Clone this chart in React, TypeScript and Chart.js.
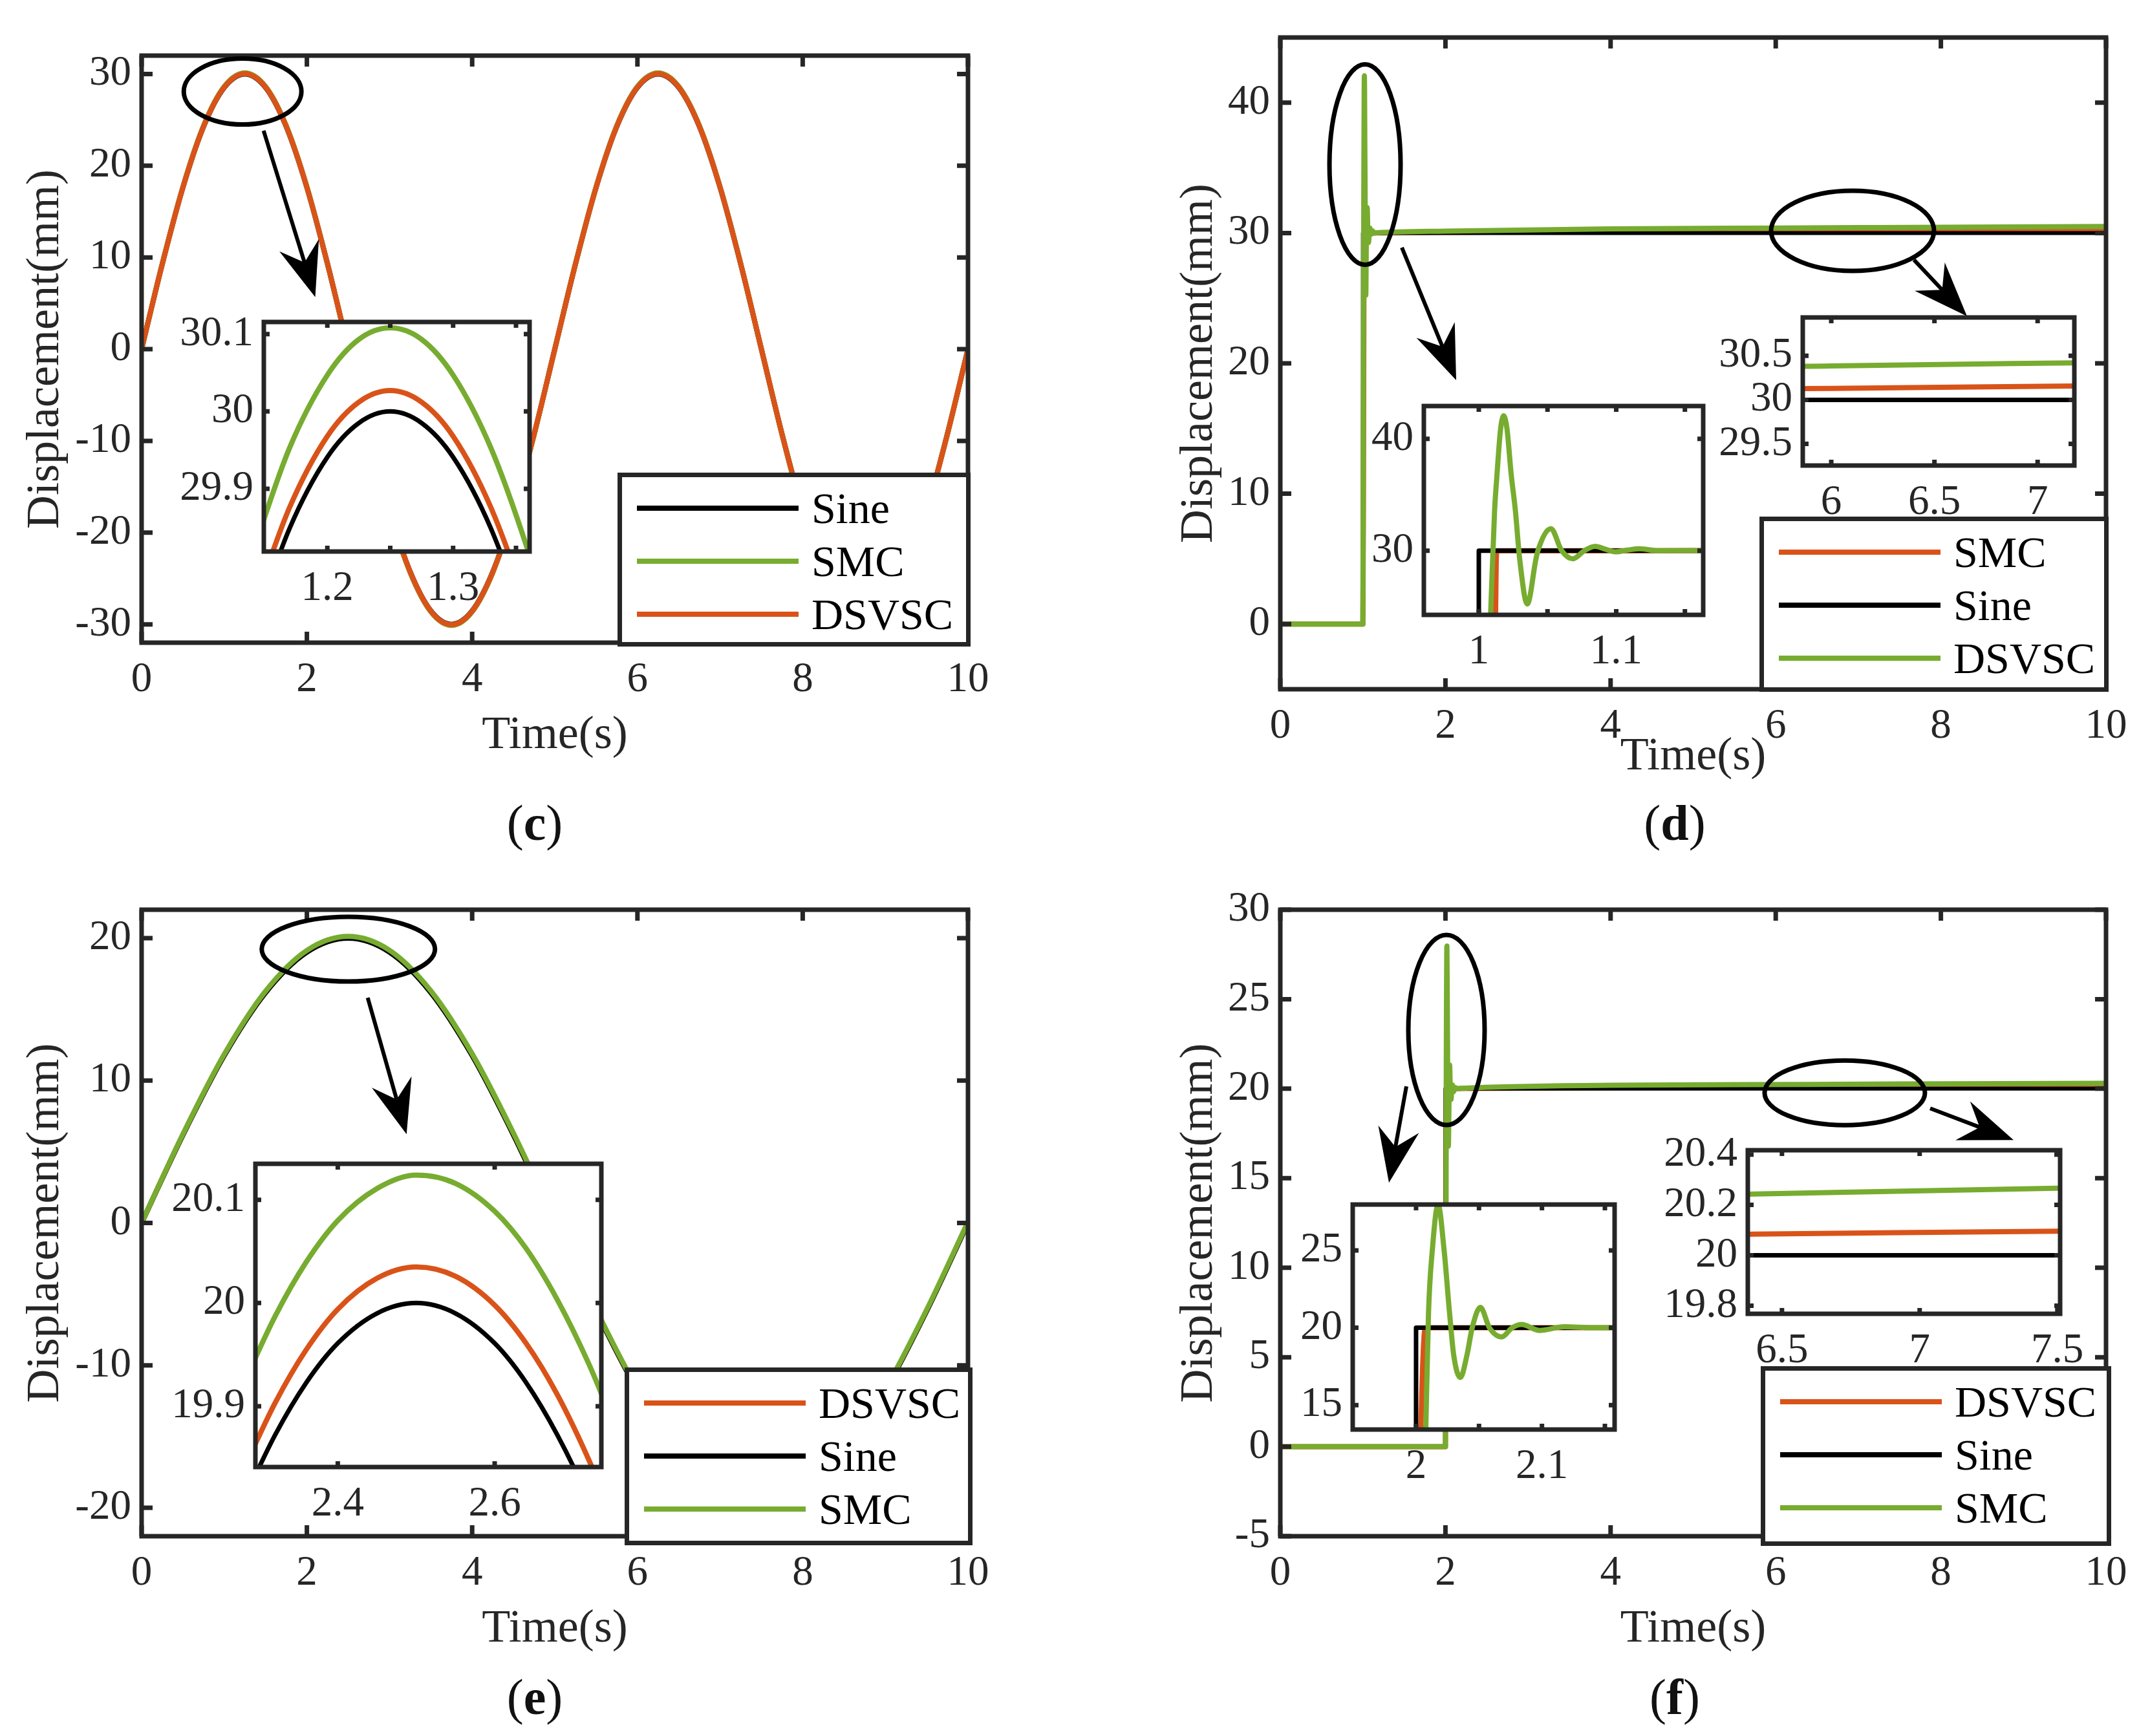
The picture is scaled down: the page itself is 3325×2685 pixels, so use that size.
import React, { useEffect, useRef } from 'react';
import { Chart, registerables } from 'chart.js';

Chart.register(...registerables);

const SERIF = '"Liberation Serif", "Times New Roman", Times, serif';
const AXIS_COLOR = '#262626';
const C_BLACK = '#000000';
const C_ORANGE = '#D95319';
const C_GREEN = '#77AC30';

/* ===================== DATA ===================== */
// ---- panel (c): sine tracking, amplitude 30, period 5 s ----
const cTime = [0, 0.25, 0.5, 0.75, 1, 1.25, 1.5, 1.75, 2, 2.25, 2.5, 2.75, 3, 3.25, 3.5, 3.75, 4, 4.25, 4.5, 4.75, 5, 5.25, 5.5, 5.75, 6, 6.25, 6.5, 6.75, 7, 7.25, 7.5, 7.75, 8, 8.25, 8.5, 8.75, 9, 9.25, 9.5, 9.75, 10];
const cSine = [0, 9.27, 17.63, 24.27, 28.53, 30, 28.53, 24.27, 17.63, 9.27, 0, -9.27, -17.63, -24.27, -28.53, -30, -28.53, -24.27, -17.63, -9.27, 0, 9.27, 17.63, 24.27, 28.53, 30, 28.53, 24.27, 17.63, 9.27, 0, -9.27, -17.63, -24.27, -28.53, -30, -28.53, -24.27, -17.63, -9.27, 0];
const cSMC = [0, 9.3, 17.69, 24.36, 28.63, 30.11, 28.63, 24.36, 17.69, 9.3, 0, -9.3, -17.69, -24.36, -28.63, -30.11, -28.63, -24.36, -17.69, -9.3, 0, 9.3, 17.69, 24.36, 28.63, 30.11, 28.63, 24.36, 17.69, 9.3, 0, -9.3, -17.69, -24.36, -28.63, -30.11, -28.63, -24.36, -17.69, -9.3, 0];
const cDSVSC = [0, 9.28, 17.65, 24.29, 28.56, 30.03, 28.56, 24.29, 17.65, 9.28, 0, -9.28, -17.65, -24.29, -28.56, -30.03, -28.56, -24.29, -17.65, -9.28, 0, 9.28, 17.65, 24.29, 28.56, 30.03, 28.56, 24.29, 17.65, 9.28, 0, -9.28, -17.65, -24.29, -28.56, -30.03, -28.56, -24.29, -17.65, -9.28, 0];
const cZoomTime = [1.14, 1.17, 1.2, 1.225, 1.25, 1.275, 1.3, 1.33, 1.36, 1.37];
const cZoomSine = [29.714, 29.849, 29.941, 29.985, 30.0, 29.985, 29.941, 29.849, 29.714, 29.66];
const cZoomSMC = [29.815, 29.953, 30.047, 30.093, 30.108, 30.093, 30.047, 29.953, 29.818, 29.764];
const cZoomDSVSC = [29.742, 29.876, 29.968, 30.012, 30.027, 30.012, 29.968, 29.876, 29.742, 29.688];

// ---- panel (d): step to 30 at t = 1 s ----
const dSineTime = [0, 1, 1, 10];
const dSineVal = [0, 0, 30, 30];
const dSMCTime = [0, 1, 1.006, 1.0115, 1.0122, 1.0128, 1.0135, 1.02, 1.2, 2, 4, 6, 7.2, 10];
const dSMCVal = [0, 0, 8, 22, 24.3, 29.5, 30, 30, 30.01, 30.06, 30.1, 30.13, 30.157, 30.2];
const dDSVSCTime = [0, 1, 1.004, 1.0086, 1.0115, 1.0133, 1.0157, 1.018, 1.0205, 1.0235, 1.0266, 1.0298, 1.0353, 1.0415, 1.043, 1.0525, 1.0603, 1.0685, 1.0768, 1.0847, 1.092, 1.0995, 1.108, 1.117, 1.13, 1.17, 2, 4, 6, 7.2, 10];
const dDSVSCVal = [0, 0, 10, 24.36, 33.6, 36.9, 40.7, 42.06, 40.9, 36.9, 33.6, 29.2, 25.23, 29.2, 30, 31.96, 30, 29.27, 30, 30.38, 30.13, 29.9, 30.05, 30.17, 30, 30.02, 30.15, 30.32, 30.385, 30.42, 30.5];

// ---- panel (e): sine tracking, amplitude 20, period 10 s ----
const eTime = [0, 0.5, 1, 1.5, 2, 2.5, 3, 3.5, 4, 4.5, 5, 5.5, 6, 6.5, 7, 7.5, 8, 8.5, 9, 9.5, 10];
const eSine = [0, 6.18, 11.76, 16.18, 19.02, 20, 19.02, 16.18, 11.76, 6.18, 0, -6.18, -11.76, -16.18, -19.02, -20, -19.02, -16.18, -11.76, -6.18, 0];
const eDSVSC = [0, 6.2, 11.79, 16.21, 19.06, 20.035, 19.06, 16.22, 11.79, 6.21, 0.02, -6.16, -11.74, -16.16, -19.0, -19.98, -19.0, -16.16, -11.74, -6.16, 0.02];
const eSMC = [0, 6.23, 11.84, 16.28, 19.14, 20.124, 19.15, 16.3, 11.88, 6.3, 0.11, -6.08, -11.66, -16.08, -18.92, -19.9, -18.93, -16.09, -11.68, -6.1, 0.08];
const eZoomTime = [2.28, 2.32, 2.36, 2.4, 2.45, 2.5, 2.55, 2.6, 2.64, 2.68, 2.72, 2.76];
const eZoomSine = [19.809, 19.872, 19.923, 19.961, 19.99, 20.0, 19.99, 19.961, 19.923, 19.872, 19.809, 19.734];
const eZoomDSVSC = [19.839, 19.903, 19.955, 19.994, 20.024, 20.035, 20.026, 19.998, 19.961, 19.911, 19.848, 19.774];
const eZoomSMC = [19.922, 19.987, 20.04, 20.08, 20.111, 20.124, 20.116, 20.089, 20.053, 20.003, 19.941, 19.867];

// ---- panel (f): step to 20 at t = 2 s ----
const fSineTime = [0, 2, 2, 10];
const fSineVal = [0, 0, 20, 20];
const fDSVSCTime = [0, 2, 2.002, 2.0038, 2.0069, 2.009, 2.02, 2.2, 4, 6.4, 7.5, 10];
const fDSVSCVal = [0, 0, 5, 13.4, 19.86, 20, 20, 20.01, 20.06, 20.084, 20.096, 20.12];
const fSMCTime = [0, 2, 2.004, 2.0077, 2.0099, 2.0129, 2.0175, 2.0223, 2.0266, 2.03, 2.0352, 2.0403, 2.0446, 2.0511, 2.0583, 2.068, 2.0763, 2.0838, 2.098, 2.1177, 2.14, 2.2, 4, 6.4, 7.5, 10];
const fSMCVal = [0, 0, 6, 13.4, 20.97, 25, 27.97, 25, 20.97, 18.18, 16.79, 18.18, 20, 21.32, 20, 19.41, 20, 20.21, 19.83, 20.07, 20, 20.02, 20.19, 20.243, 20.266, 20.3];

// ---- ticks ----
const mainXTicks = [0, 2, 4, 6, 8, 10];
const cYTicks = [-30, -20, -10, 0, 10, 20, 30];
const dYTicks = [0, 10, 20, 30, 40];
const eYTicks = [-20, -10, 0, 10, 20];
const fYTicks = [-5, 0, 5, 10, 15, 20, 25, 30];
const cZoomXTicks = [1.2, 1.25, 1.3, 1.35];
const cZoomXLabels = ['1.2', '', '1.3', ''];
const cZoomYTicks = [29.9, 30, 30.1];
const dZoom1XTicks = [1, 1.05, 1.1, 1.15];
const dZoom1XLabels = ['1', '', '1.1', ''];
const dZoom1YTicks = [30, 40];
const dZoom2XTicks = [6, 6.5, 7];
const dZoom2YTicks = [29.5, 30, 30.5];
const eZoomXTicks = [2.4, 2.6];
const eZoomYTicks = [19.9, 20, 20.1];
const fZoom1XTicks = [2, 2.05, 2.1, 2.15];
const fZoom1XLabels = ['2', '', '2.1', ''];
const fZoom1YTicks = [15, 20, 25];
const fZoom2XTicks = [6.5, 7, 7.5];
const fZoom2YTicks = [19.8, 20, 20.2, 20.4];

// ---- annotations (data coordinates, radii in px) ----
const cNotes = [
  { type: 'ellipse', x: 1.222, y: 28.08, rx: 91, ry: 51 },
  { type: 'arrow', x1: 1.476, y1: 23.81, x2: 2.101, y2: 5.68 },
];
const dNotes = [
  { type: 'ellipse', x: 1.026, y: 35.25, rx: 55, ry: 155 },
  { type: 'ellipse', x: 6.93, y: 30.17, rx: 126, ry: 62 },
  { type: 'arrow', x1: 1.472, y1: 28.88, x2: 2.13, y2: 18.71 },
  { type: 'arrow', x1: 7.674, y1: 27.94, x2: 8.316, y2: 23.62 },
];
const eNotes = [
  { type: 'ellipse', x: 2.502, y: 19.23, rx: 134, ry: 50 },
  { type: 'arrow', x1: 2.736, y1: 15.82, x2: 3.206, y2: 6.23 },
];
const fNotes = [
  { type: 'ellipse', x: 2.0125, y: 23.28, rx: 59, ry: 147 },
  { type: 'ellipse', x: 6.836, y: 19.77, rx: 124, ry: 50 },
  { type: 'arrow', x1: 1.527, y1: 20.13, x2: 1.316, y2: 14.75 },
  { type: 'arrow', x1: 7.87, y1: 18.9, x2: 8.88, y2: 17.13 },
];

/* ===================== TYPES / HELPERS ===================== */
type Series = { label: string; t: number[]; y: number[]; color: string; width: number; straight?: boolean };
type AxesSpec = {
  box: number[];
  xRange: number[];
  yRange: number[];
  xTicks: number[];
  xLabels: string[];
  yTicks: number[];
  yLabels: string[];
  series: Series[];
  inset?: boolean;
  xTitle?: string;
  xTitlePad?: number;
  yTitle?: string;
  yTitlePad?: number;
  notes?: any[];
};

const lbl = (arr: number[]) => arr.map((v) => String(v));

function makeDeco(spec: AxesSpec) {
  const tickLen = spec.inset ? 9 : 17;
  return {
    id: 'deco',
    beforeDraw(chart: any) {
      if (!spec.inset) return;
      const { ctx, chartArea: a } = chart;
      ctx.save();
      ctx.fillStyle = '#ffffff';
      ctx.fillRect(a.left, a.top, a.right - a.left, a.bottom - a.top);
      ctx.restore();
    },
    afterDatasetsDraw(chart: any) {
      const { ctx, chartArea: a, scales } = chart;
      ctx.save();
      ctx.strokeStyle = AXIS_COLOR;
      ctx.lineWidth = 7;
      ctx.beginPath();
      for (const tk of scales.x.ticks) {
        const p = scales.x.getPixelForValue(tk.value);
        ctx.moveTo(p, a.bottom);
        ctx.lineTo(p, a.bottom - tickLen);
        ctx.moveTo(p, a.top);
        ctx.lineTo(p, a.top + tickLen);
      }
      for (const tk of scales.y.ticks) {
        const p = scales.y.getPixelForValue(tk.value);
        ctx.moveTo(a.left, p);
        ctx.lineTo(a.left + tickLen, p);
        ctx.moveTo(a.right, p);
        ctx.lineTo(a.right - tickLen, p);
      }
      ctx.stroke();
      ctx.lineWidth = 7;
      ctx.lineJoin = 'miter';
      ctx.strokeRect(a.left, a.top, a.right - a.left, a.bottom - a.top);
      ctx.restore();
    },
    afterDraw(chart: any) {
      if (!spec.notes) return;
      const { ctx, scales } = chart;
      const X = (v: number) => scales.x.getPixelForValue(v);
      const Y = (v: number) => scales.y.getPixelForValue(v);
      ctx.save();
      ctx.strokeStyle = '#000000';
      ctx.fillStyle = '#000000';
      for (const n of spec.notes) {
        if (n.type === 'ellipse') {
          ctx.lineWidth = 7;
          ctx.beginPath();
          ctx.ellipse(X(n.x), Y(n.y), n.rx, n.ry, 0, 0, Math.PI * 2);
          ctx.stroke();
        } else {
          const x1 = X(n.x1), y1 = Y(n.y1), x2 = X(n.x2), y2 = Y(n.y2);
          const dx = x2 - x1, dy = y2 - y1;
          const len = Math.hypot(dx, dy);
          const ux = dx / len, uy = dy / len;
          const nx = -uy, ny = ux;
          const L = 84, W = 32, N = 56;
          ctx.lineWidth = 6;
          ctx.beginPath();
          ctx.moveTo(x1, y1);
          ctx.lineTo(x2 - ux * N, y2 - uy * N);
          ctx.stroke();
          ctx.beginPath();
          ctx.moveTo(x2, y2);
          ctx.lineTo(x2 - ux * L + nx * W, y2 - uy * L + ny * W);
          ctx.lineTo(x2 - ux * N, y2 - uy * N);
          ctx.lineTo(x2 - ux * L - nx * W, y2 - uy * L - ny * W);
          ctx.closePath();
          ctx.fill();
        }
      }
      ctx.restore();
    },
  };
}

function buildConfig(spec: AxesSpec, padL: number, padT: number, padR: number, padB: number) {
  const n = spec.series.length;
  const datasets = spec.series.map((s, i) => ({
    label: s.label,
    data: s.t.map((t, k) => ({ x: t, y: s.y[k] })),
    borderColor: s.color,
    backgroundColor: s.color,
    borderWidth: s.width,
    pointRadius: 0,
    pointHoverRadius: 0,
    fill: false,
    tension: s.straight ? 0 : 0.4,
    cubicInterpolationMode: s.straight ? 'default' : 'monotone',
    capBezierPoints: false,
    borderJoinStyle: 'round',
    order: n - i,
  }));
  const tickFont = { family: SERIF, size: 65, lineHeight: 1 };
  const titleFont = { family: SERIF, size: 72, lineHeight: 1 };
  return {
    type: 'line',
    data: { datasets },
    plugins: [makeDeco(spec)],
    options: {
      responsive: false,
      animation: false,
      devicePixelRatio: 1,
      events: [],
      layout: { padding: { left: 0, top: padT, right: padR, bottom: 0 } },
      plugins: { legend: { display: false }, tooltip: { enabled: false } },
      scales: {
        x: {
          type: 'linear',
          position: 'bottom',
          min: spec.xRange[0],
          max: spec.xRange[1],
          afterBuildTicks: (sc: any) => {
            sc.ticks = spec.xTicks.map((v) => ({ value: v }));
          },
          afterFit: (sc: any) => {
            sc.height = padB;
          },
          grid: { display: false, drawTicks: false },
          border: { display: false },
          ticks: {
            autoSkip: false,
            maxRotation: 0,
            minRotation: 0,
            padding: 25,
            color: AXIS_COLOR,
            font: tickFont,
            callback: (_v: any, i: number) => spec.xLabels[i],
          },
          title: spec.xTitle
            ? { display: true, text: spec.xTitle, color: AXIS_COLOR, font: titleFont, padding: { top: 0, bottom: spec.xTitlePad } }
            : { display: false },
        },
        y: {
          type: 'linear',
          position: 'left',
          min: spec.yRange[0],
          max: spec.yRange[1],
          afterBuildTicks: (sc: any) => {
            sc.ticks = spec.yTicks.map((v) => ({ value: v }));
          },
          afterFit: (sc: any) => {
            sc.width = padL;
          },
          grid: { display: false, drawTicks: false },
          border: { display: false },
          ticks: {
            autoSkip: false,
            padding: 16,
            color: AXIS_COLOR,
            font: tickFont,
            callback: (_v: any, i: number) => spec.yLabels[i],
          },
          title: spec.yTitle
            ? { display: true, text: spec.yTitle, color: AXIS_COLOR, font: titleFont, padding: { top: spec.yTitlePad, bottom: 0 } }
            : { display: false },
        },
      },
    },
  };
}

function Axes({ spec }: { spec: AxesSpec }) {
  const ref = useRef<HTMLCanvasElement | null>(null);
  const inset = !!spec.inset;
  const padL = inset ? 170 : 215;
  const padT = 50;
  const padR = 80;
  const padB = inset ? 110 : 200;
  const [l, t, r, b] = spec.box;
  const cw = r - l + padL + padR;
  const ch = b - t + padT + padB;
  useEffect(() => {
    const chart = new Chart(ref.current as HTMLCanvasElement, buildConfig(spec, padL, padT, padR, padB) as any);
    return () => chart.destroy();
  }, []);
  return (
    <canvas
      ref={ref}
      width={cw}
      height={ch}
      style={{ position: 'absolute', left: l - padL, top: t - padT, width: cw, height: ch }}
    />
  );
}

const legendRows = [52, 134, 216];

function Legend({ box, items }: { box: number[]; items: { label: string; color: string }[] }) {
  const [l, t, r, b] = box;
  return (
    <div
      style={{
        position: 'absolute',
        left: l - 3.5,
        top: t - 3.5,
        width: r - l + 7,
        height: b - t + 7,
        boxSizing: 'border-box',
        border: `7px solid ${AXIS_COLOR}`,
        background: '#ffffff',
      }}
    >
      {items.map((it, i) => (
        <React.Fragment key={it.label}>
          <div
            style={{
              position: 'absolute',
              left: 27 - 3.5,
              top: legendRows[i] - 3.5 - 4,
              width: 250,
              height: 8,
              background: it.color,
            }}
          />
          <div
            style={{
              position: 'absolute',
              left: 297 - 3.5,
              top: legendRows[i] - 3.5 - 40,
              height: 80,
              lineHeight: '80px',
              fontFamily: SERIF,
              fontSize: 68,
              color: '#000000',
              whiteSpace: 'nowrap',
            }}
          >
            {it.label}
          </div>
        </React.Fragment>
      ))}
    </div>
  );
}

function PanelLabel({ x, y, letter }: { x: number; y: number; letter: string }) {
  return (
    <div
      style={{
        position: 'absolute',
        left: x - 100,
        top: y - 40,
        width: 200,
        height: 80,
        lineHeight: '80px',
        textAlign: 'center',
        fontFamily: SERIF,
        fontSize: 78,
        color: '#111111',
      }}
    >
      (<b>{letter}</b>)
    </div>
  );
}

/* ===================== SPECS ===================== */
const W_MAIN = 8;
const W_ZOOM = 8;
const W_ZOOM_BLACK = 7;

const specC: AxesSpec = {
  box: [219, 86, 1497, 994], xRange: [0, 10], yRange: [-32, 32],
  xTicks: mainXTicks, xLabels: lbl(mainXTicks), yTicks: cYTicks, yLabels: lbl(cYTicks),
  series: [
    { label: 'Sine', t: cTime, y: cSine, color: C_BLACK, width: W_MAIN },
    { label: 'SMC', t: cTime, y: cSMC, color: C_GREEN, width: W_MAIN },
    { label: 'DSVSC', t: cTime, y: cDSVSC, color: C_ORANGE, width: W_MAIN },
  ],
  xTitle: 'Time(s)', xTitlePad: 20, yTitle: 'Displacement(mm)', yTitlePad: 31, notes: cNotes,
};
const specCZoom: AxesSpec = {
  box: [408, 498, 819, 853], xRange: [1.1495, 1.3608], yRange: [29.819, 30.1156],
  xTicks: cZoomXTicks, xLabels: cZoomXLabels, yTicks: cZoomYTicks, yLabels: lbl(cZoomYTicks), inset: true,
  series: [
    { label: 'Sine', t: cZoomTime, y: cZoomSine, color: C_BLACK, width: W_ZOOM_BLACK },
    { label: 'SMC', t: cZoomTime, y: cZoomSMC, color: C_GREEN, width: W_ZOOM },
    { label: 'DSVSC', t: cZoomTime, y: cZoomDSVSC, color: C_ORANGE, width: W_ZOOM },
  ],
};

const dSeriesMain: Series[] = [
  { label: 'SMC', t: dSMCTime, y: dSMCVal, color: C_ORANGE, width: W_MAIN },
  { label: 'Sine', t: dSineTime, y: dSineVal, color: C_BLACK, width: 6, straight: true },
  { label: 'DSVSC', t: dDSVSCTime, y: dDSVSCVal, color: C_GREEN, width: W_MAIN },
];
const dSeriesZoom: Series[] = [
  { label: 'SMC', t: dSMCTime, y: dSMCVal, color: C_ORANGE, width: W_ZOOM },
  { label: 'Sine', t: dSineTime, y: dSineVal, color: C_BLACK, width: W_ZOOM_BLACK, straight: true },
  { label: 'DSVSC', t: dDSVSCTime, y: dDSVSCVal, color: C_GREEN, width: W_ZOOM },
];
const specD: AxesSpec = {
  box: [1980, 58, 3257, 1066], xRange: [0, 10], yRange: [-5, 45],
  xTicks: mainXTicks, xLabels: lbl(mainXTicks), yTicks: dYTicks, yLabels: lbl(dYTicks),
  series: dSeriesMain,
  xTitle: 'Time(s)', xTitlePad: 59, yTitle: 'Displacement(mm)', yTitlePad: 54, notes: dNotes,
};
const specDZoom1: AxesSpec = {
  box: [2202, 628, 2634, 951], xRange: [0.96, 1.1633], yRange: [24.26, 42.93],
  xTicks: dZoom1XTicks, xLabels: dZoom1XLabels, yTicks: dZoom1YTicks, yLabels: lbl(dZoom1YTicks), inset: true,
  series: dSeriesZoom,
};
const specDZoom2: AxesSpec = {
  box: [2788, 491, 3208, 720], xRange: [5.862, 7.178], yRange: [29.255, 30.934],
  xTicks: dZoom2XTicks, xLabels: lbl(dZoom2XTicks), yTicks: dZoom2YTicks, yLabels: lbl(dZoom2YTicks), inset: true,
  series: dSeriesZoom,
};

const specE: AxesSpec = {
  box: [219, 1407, 1497, 2376], xRange: [0, 10], yRange: [-22, 22],
  xTicks: mainXTicks, xLabels: lbl(mainXTicks), yTicks: eYTicks, yLabels: lbl(eYTicks),
  series: [
    { label: 'DSVSC', t: eTime, y: eDSVSC, color: C_ORANGE, width: W_MAIN },
    { label: 'Sine', t: eTime, y: eSine, color: C_BLACK, width: W_MAIN },
    { label: 'SMC', t: eTime, y: eSMC, color: C_GREEN, width: W_MAIN },
  ],
  xTitle: 'Time(s)', xTitlePad: 20, yTitle: 'Displacement(mm)', yTitlePad: 31, notes: eNotes,
};
const specEZoom: AxesSpec = {
  box: [395, 1800, 930, 2269], xRange: [2.295, 2.736], yRange: [19.841, 20.135],
  xTicks: eZoomXTicks, xLabels: lbl(eZoomXTicks), yTicks: eZoomYTicks, yLabels: lbl(eZoomYTicks), inset: true,
  series: [
    { label: 'DSVSC', t: eZoomTime, y: eZoomDSVSC, color: C_ORANGE, width: W_ZOOM },
    { label: 'Sine', t: eZoomTime, y: eZoomSine, color: C_BLACK, width: W_ZOOM_BLACK },
    { label: 'SMC', t: eZoomTime, y: eZoomSMC, color: C_GREEN, width: W_ZOOM },
  ],
};

const fSeriesMain: Series[] = [
  { label: 'DSVSC', t: fDSVSCTime, y: fDSVSCVal, color: C_ORANGE, width: W_MAIN },
  { label: 'Sine', t: fSineTime, y: fSineVal, color: C_BLACK, width: 6, straight: true },
  { label: 'SMC', t: fSMCTime, y: fSMCVal, color: C_GREEN, width: W_MAIN },
];
const fSeriesZoom: Series[] = [
  { label: 'DSVSC', t: fDSVSCTime, y: fDSVSCVal, color: C_ORANGE, width: W_ZOOM },
  { label: 'Sine', t: fSineTime, y: fSineVal, color: C_BLACK, width: W_ZOOM_BLACK, straight: true },
  { label: 'SMC', t: fSMCTime, y: fSMCVal, color: C_GREEN, width: W_ZOOM },
];
const specF: AxesSpec = {
  box: [1980, 1407, 3257, 2376], xRange: [0, 10], yRange: [-5, 30],
  xTicks: mainXTicks, xLabels: lbl(mainXTicks), yTicks: fYTicks, yLabels: lbl(fYTicks),
  series: fSeriesMain,
  xTitle: 'Time(s)', xTitlePad: 20, yTitle: 'Displacement(mm)', yTitlePad: 54, notes: fNotes,
};
const specFZoom1: AxesSpec = {
  box: [2092, 1863, 2497, 2211], xRange: [1.9497, 2.1577], yRange: [13.42, 27.97],
  xTicks: fZoom1XTicks, xLabels: fZoom1XLabels, yTicks: fZoom1YTicks, yLabels: lbl(fZoom1YTicks), inset: true,
  series: fSeriesZoom,
};
const specFZoom2: AxesSpec = {
  box: [2703, 1779, 3186, 2032], xRange: [6.376, 7.51], yRange: [19.768, 20.417],
  xTicks: fZoom2XTicks, xLabels: lbl(fZoom2XTicks), yTicks: fZoom2YTicks, yLabels: lbl(fZoom2YTicks), inset: true,
  series: fSeriesZoom,
};

const legendC = [
  { label: 'Sine', color: C_BLACK },
  { label: 'SMC', color: C_GREEN },
  { label: 'DSVSC', color: C_ORANGE },
];
const legendD = [
  { label: 'SMC', color: C_ORANGE },
  { label: 'Sine', color: C_BLACK },
  { label: 'DSVSC', color: C_GREEN },
];
const legendEF = [
  { label: 'DSVSC', color: C_ORANGE },
  { label: 'Sine', color: C_BLACK },
  { label: 'SMC', color: C_GREEN },
];

export default function App() {
  return (
    <div
      style={{
        position: 'absolute',
        left: 0,
        top: 0,
        width: 3325,
        height: 2685,
        overflow: 'hidden',
        background: '#ffffff',
      }}
    >
      <Axes spec={specC} />
      <Axes spec={specCZoom} />
      <Legend box={[958, 734, 1497, 996]} items={legendC} />
      <PanelLabel x={827} y={1273} letter="c" />

      <Axes spec={specD} />
      <Axes spec={specDZoom1} />
      <Axes spec={specDZoom2} />
      <Legend box={[2724, 802, 3257, 1066]} items={legendD} />
      <PanelLabel x={2590} y={1273} letter="d" />

      <Axes spec={specE} />
      <Axes spec={specEZoom} />
      <Legend box={[969, 2118, 1500, 2386]} items={legendEF} />
      <PanelLabel x={827} y={2625} letter="e" />

      <Axes spec={specF} />
      <Axes spec={specFZoom1} />
      <Axes spec={specFZoom2} />
      <Legend box={[2726, 2116, 3261, 2387]} items={legendEF} />
      <PanelLabel x={2590} y={2625} letter="f" />
    </div>
  );
}
